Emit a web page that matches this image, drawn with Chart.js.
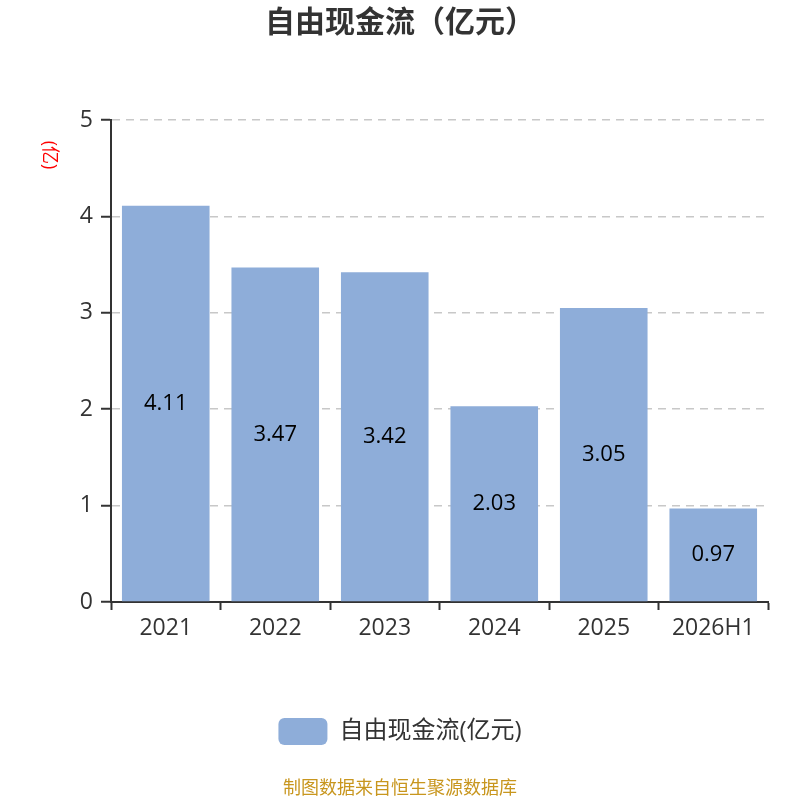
<!DOCTYPE html>
<html>
<head>
<meta charset="utf-8">
<script src="https://cdn.jsdelivr.net/npm/chart.js@4/dist/chart.umd.min.js"></script>
<style>
  html, body { margin: 0; padding: 0; background: #fff; }
  #wrap { width: 800px; height: 800px; }
</style>
</head>
<body>
<div id="wrap"><canvas id="chart" width="800" height="800"></canvas></div>
<script>
// chart data
const years = ['2021', '2022', '2023', '2024', '2025', '2026H1'];
const cashFlow = [4.11, 3.47, 3.42, 2.03, 3.05, 0.97];
const yTicks = [0, 1, 2, 3, 4, 5];

const FONT = '"Open Sans", "Noto Sans CJK SC", sans-serif';

// value labels in the middle of each bar + rotated unit label + source footer
const extrasPlugin = {
  id: 'extras',
  afterDatasetsDraw(chart) {
    const ctx = chart.ctx;
    const meta = chart.getDatasetMeta(0);
    ctx.save();
    ctx.font = '22px ' + FONT;
    ctx.fillStyle = '#000';
    ctx.textAlign = 'center';
    ctx.textBaseline = 'middle';
    meta.data.forEach((bar, i) => {
      const mid = (bar.y + bar.base) / 2;
      ctx.fillText(cashFlow[i].toFixed(2), bar.x, mid);
    });
    ctx.restore();
  },
  afterDraw(chart) {
    const ctx = chart.ctx;
    ctx.save();
    // unit label, rotated
    ctx.translate(49, 155);
    ctx.rotate(Math.PI / 2);
    ctx.font = '18px ' + FONT;
    ctx.fillStyle = '#ff0000';
    ctx.textAlign = 'center';
    ctx.textBaseline = 'middle';
    ctx.fillText('(亿)', 0, 0);
    ctx.restore();

    // footer
    ctx.save();
    ctx.font = '18px ' + FONT;
    ctx.fillStyle = '#c8961e';
    ctx.textAlign = 'center';
    ctx.textBaseline = 'middle';
    ctx.fillText('制图数据来自恒生聚源数据库', 400, 789);
    ctx.restore();
  }
};

new Chart(document.getElementById('chart'), {
  type: 'bar',
  data: {
    labels: years,
    datasets: [{
      label: '自由现金流(亿元)',
      data: cashFlow,
      backgroundColor: '#8eadd9',
      borderWidth: 0,
      barPercentage: 0.8,
      categoryPercentage: 1.0
    }]
  },
  options: {
    responsive: false,
    animation: false,
    layout: { padding: { top: 0, left: 0, right: 0, bottom: 45 } },
    plugins: {
      title: {
        display: true,
        text: '自由现金流（亿元）',
        color: '#333',
        font: { family: FONT, size: 30, weight: 'bold' },
        padding: { top: 5, bottom: 79 }
      },
      legend: {
        display: true,
        position: 'bottom',
        labels: {
          color: '#333',
          font: { family: FONT, size: 24 },
          boxWidth: 49,
          boxHeight: 27,
          useBorderRadius: true,
          borderRadius: 6,
          padding: 10
        }
      },
      tooltip: { enabled: false }
    },
    scales: {
      x: {
        offset: true,
        afterFit(scale) { scale.height = 106; },
        grid: {
          offset: true,
          drawOnChartArea: false,
          drawTicks: true,
          tickLength: 8,
          tickColor: '#333',
          tickWidth: 2
        },
        border: { display: true, color: '#333', width: 2 },
        ticks: {
          color: '#333',
          font: { family: FONT, size: 23 },
          padding: 5
        }
      },
      y: {
        min: 0,
        max: 5,
        afterFit(scale) { scale.width = 111; },
        afterBuildTicks(scale) { scale.ticks = yTicks.map(v => ({ value: v })); },
        grid: {
          color: '#c8c8c8',
          lineWidth: 1.5,
          drawTicks: true,
          tickLength: 10,
          tickColor: '#333',
          tickWidth: 2,
          tickBorderDash: []
        },
        border: { display: true, color: '#333', width: 2, dash: [8, 6] },
        ticks: {
          color: '#333',
          font: { family: FONT, size: 23 },
          padding: 8
        }
      },
      // empty right-hand spacer so title and legend stay centred on the page
      spacer: {
        type: 'linear',
        position: 'right',
        afterFit(scale) { scale.width = 32; },
        grid: { display: false, drawOnChartArea: false },
        border: { display: false },
        ticks: { display: false }
      }
    }
  },
  plugins: [extrasPlugin]
});
</script>
</body>
</html>
